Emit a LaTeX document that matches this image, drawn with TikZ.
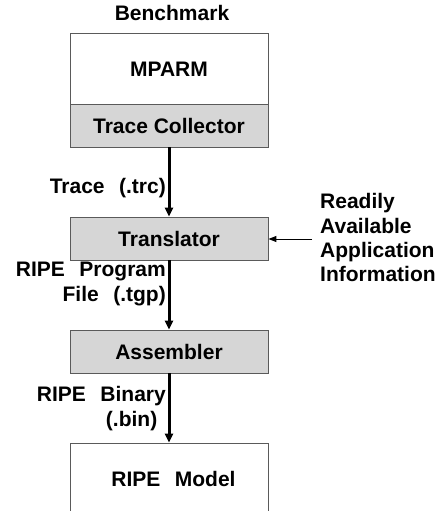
\documentclass[tikz,border=0pt]{standalone}
\usepackage{fontspec}
\setmainfont{Liberation Sans}
\usetikzlibrary{arrows.meta}
\definecolor{boxgray}{HTML}{D6D6D6}
\definecolor{edgegray}{HTML}{5A5A5A}
\newcommand{\gapsp}{\hspace{14.5pt}}
\begin{document}
\begin{tikzpicture}[x=1pt,y=-1pt,
  every node/.style={font=\fontsize{21}{24.3}\selectfont\bfseries, inner sep=0pt},
  blockbox/.style={draw=edgegray, line width=0.9pt, minimum width=198pt, text height=15pt, text depth=0pt},
  graybox/.style={blockbox, fill=boxgray, minimum height=43pt},
  whitebox/.style={blockbox, fill=white, minimum height=71pt},
  flow/.style={line width=3pt, -{Triangle[length=9pt,width=8pt]}},
  thinflow/.style={line width=1pt, -{Triangle[length=8pt,width=6pt]}},
  lbl/.style={anchor=base east}
]
\useasboundingbox (0,0) rectangle (439,511);
\clip (0,0) rectangle (439,511);
\node[anchor=base] (bench) at (172,21) {Benchmark};
\node[whitebox] (mparm) at (169,68.5) {MPARM};
\node[graybox] (tc) at (169,125.5) {Trace Collector};
\node[graybox] (tr) at (169,238.5) {Translator};
\node[graybox] (as) at (169,351.5) {Assembler};
\node[whitebox, minimum height=72pt] (rm) at (169,479) {\hspace*{9pt}RIPE\gapsp Model};
\draw[flow] (tc.south) -- (tr.north);
\draw[flow] (tr.south) -- (as.north);
\draw[flow] (as.south) -- (rm.north);
\node[lbl] (l1) at (166,193.3) {Trace\gapsp(.trc)};
\node[lbl] (l2) at (166,276.7) {RIPE\gapsp Program};
\node[lbl] (l3) at (166,301.7) {File\gapsp(.tgp)};
\node[lbl] (l4) at (166,401) {RIPE\gapsp Binary};
\node[lbl] (l5) at (157.5,426) {(.bin)};
\node[anchor=base west, align=left] (info) at (320,281.7) {Readily\\Available\\Application\\Information};
\coordinate (infoarrow) at (312,239);
\draw[thinflow] (infoarrow) -- (tr.east |- infoarrow);
\end{tikzpicture}
\end{document}
